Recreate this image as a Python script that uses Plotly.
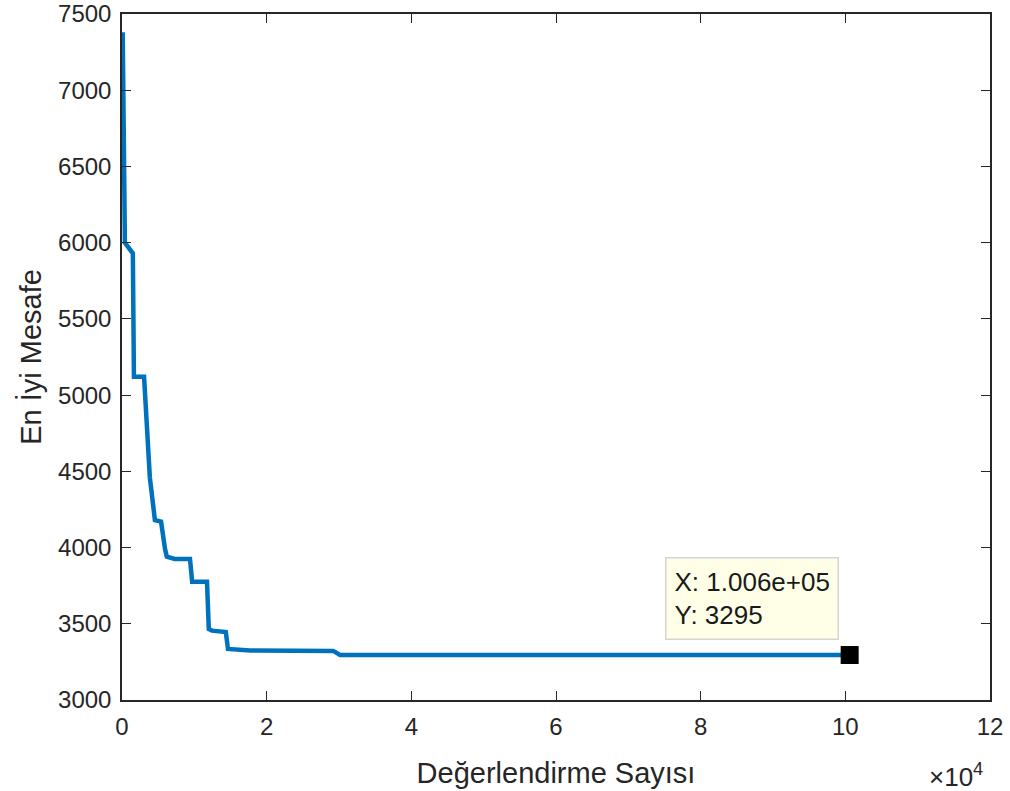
import plotly.graph_objects as go

# Best-so-far distance against number of evaluations
evaluations = [100, 400, 1500, 1650, 3050, 3850, 4550, 5400, 5950, 6200, 7300,
               9400, 9700, 11750, 12000, 12450, 14350, 14650, 17700, 29200,
               30150, 100600]
best_distance = [7380, 6000, 5930, 5120, 5120, 4460, 4180, 4170, 3990, 3940, 3925,
                 3925, 3775, 3775, 3465, 3455, 3446, 3335, 3325, 3322,
                 3295, 3295]

# Selected data point shown in the data tip
tip_x = 100600
tip_y = 3295

x_tick_values = [0, 20000, 40000, 60000, 80000, 100000, 120000]
x_tick_labels = ["0", "2", "4", "6", "8", "10", "12"]
y_tick_values = [3000, 3500, 4000, 4500, 5000, 5500, 6000, 6500, 7000, 7500]

axis_color = "#262626"
font_family = "Liberation Sans, Arial, sans-serif"

fig = go.Figure()

fig.add_trace(go.Scatter(
    x=evaluations, y=best_distance, mode="lines",
    line=dict(color="#0072BD", width=4.5),
    hoverinfo="skip", showlegend=False,
))

fig.add_trace(go.Scatter(
    x=[tip_x], y=[tip_y], mode="markers",
    marker=dict(symbol="square", size=18, color="black"),
    hoverinfo="skip", showlegend=False,
))

fig.add_annotation(
    x=tip_x, y=tip_y, xref="x", yref="y",
    text=f"X: {tip_x:.3e}<br>Y: {tip_y}",
    showarrow=False, xanchor="right", yanchor="bottom",
    xshift=-11, yshift=15, align="left",
    bgcolor="#FFFFE8", bordercolor="#D4D4D4", borderwidth=1.5, borderpad=8,
    font=dict(family=font_family, size=26, color="#1a1a1a"),
)

fig.add_annotation(
    x=0.9945, y=-0.11, xref="paper", yref="paper",
    text="×10<sup>4</sup>", showarrow=False,
    xanchor="right", yanchor="middle",
    font=dict(family=font_family, size=26, color=axis_color),
)

axis_common = dict(
    showgrid=False, zeroline=False, showline=True, linecolor=axis_color,
    linewidth=1.5, mirror="ticks", ticks="inside", ticklen=9,
    tickcolor=axis_color, tickwidth=1.2, automargin=False,
    ticklabelstandoff=4,
    tickfont=dict(family=font_family, size=24, color=axis_color),
)

fig.update_layout(
    width=1010, height=791,
    margin=dict(l=122, r=20, t=14, b=91),
    paper_bgcolor="white", plot_bgcolor="white",
    xaxis=dict(
        range=[0, 120000], tickvals=x_tick_values, ticktext=x_tick_labels,
        title=dict(text="Değerlendirme Sayısı", standoff=24,
                   font=dict(family=font_family, size=29, color=axis_color)),
        **axis_common,
    ),
    yaxis=dict(
        range=[3000, 7500], tickvals=y_tick_values,
        title=dict(text="En İyi Mesafe", standoff=8,
                   font=dict(family=font_family, size=29, color=axis_color)),
        **axis_common,
    ),
)

fig.write_html("out.html")
